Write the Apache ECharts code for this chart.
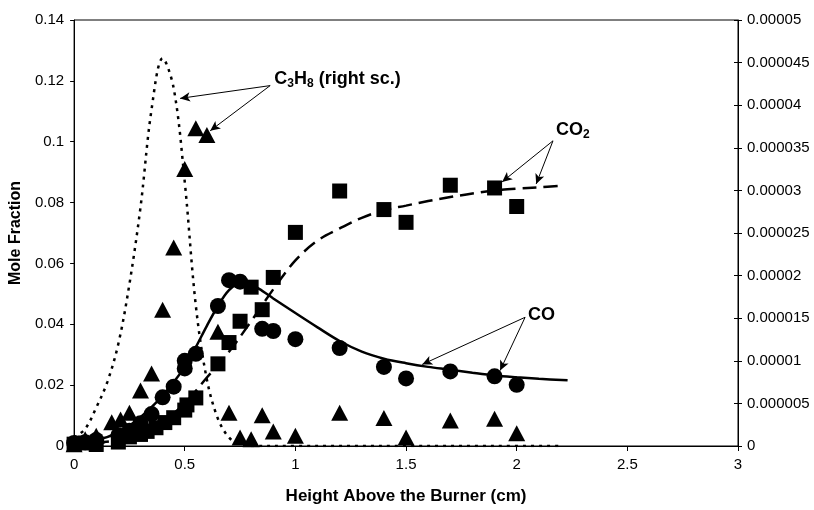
<!DOCTYPE html>
<html>
<head>
<meta charset="utf-8">
<script src="https://cdn.jsdelivr.net/npm/echarts@6/dist/echarts.min.js"></script>
<style>
  html, body { margin: 0; padding: 0; background: #fff; }
  #chart { width: 814px; height: 510px; }
</style>
</head>
<body>
<div id="chart"></div>
<script>
// measured points (height in cm)
const coX  = [0, 0.05, 0.1, 0.2, 0.25, 0.3, 0.35, 0.4, 0.45, 0.5, 0.5, 0.55, 0.65, 0.7, 0.75, 0.85, 0.9, 1.0, 1.2, 1.4, 1.5, 1.7, 1.9, 2.0];
const coY  = [0.001, 0.0012, 0.002, 0.0035, 0.005, 0.0075, 0.0105, 0.016, 0.0195, 0.0255, 0.028, 0.0303, 0.046, 0.0545, 0.054, 0.0385, 0.0378, 0.0351, 0.0322, 0.026, 0.0222, 0.0245, 0.0229, 0.0201];

const co2X = [0, 0.05, 0.1, 0.2, 0.25, 0.3, 0.33, 0.37, 0.41, 0.45, 0.5, 0.51, 0.55, 0.65, 0.7, 0.75, 0.8, 0.85, 0.9, 1.0, 1.2, 1.4, 1.5, 1.7, 1.9, 2.0];
const co2Y = [0.0006, 0.001, 0.0005, 0.0013, 0.003, 0.0038, 0.0048, 0.006, 0.0077, 0.0093, 0.0118, 0.0135, 0.0158, 0.027, 0.034, 0.041, 0.0522, 0.0448, 0.0554, 0.0702, 0.0838, 0.0777, 0.0735, 0.0857, 0.0848, 0.0787];

// C3H8, right scale
const c3h8X = [0, 0.05, 0.1, 0.17, 0.21, 0.25, 0.3, 0.35, 0.4, 0.45, 0.5, 0.55, 0.6, 0.65, 0.7, 0.75, 0.8, 0.85, 0.9, 1.0, 1.2, 1.4, 1.5, 1.7, 1.9, 2.0];
const c3h8Y = [0.0000002, 0.0000008, 0.0000012, 0.0000028, 0.0000031, 0.0000039, 0.0000065, 0.0000085, 0.000016, 0.0000233, 0.0000325, 0.0000373, 0.0000365, 0.0000134, 0.0000039, 0.000001, 0.0000008, 0.0000036, 0.0000017, 0.0000012, 0.0000039, 0.0000033, 0.000001, 0.000003, 0.0000032, 0.0000015];

// model curves
const coFitX = [0, 0.1, 0.2, 0.3, 0.4, 0.45, 0.5, 0.55, 0.6, 0.65, 0.7, 0.75, 0.8, 0.85, 0.9, 1.0, 1.1, 1.2, 1.3, 1.4, 1.5, 1.6, 1.7, 1.8, 1.9, 2.0, 2.1, 2.23];
const coFitY = [0.0015, 0.002, 0.0045, 0.0095, 0.0165, 0.021, 0.026, 0.0325, 0.0395, 0.046, 0.0512, 0.0535, 0.053, 0.051, 0.0485, 0.0437, 0.039, 0.0345, 0.031, 0.0287, 0.0272, 0.026, 0.0251, 0.0241, 0.0232, 0.0226, 0.0221, 0.0216];

const co2FitX = [0, 0.1, 0.2, 0.3, 0.4, 0.5, 0.6, 0.7, 0.8, 0.9, 1.0, 1.1, 1.2, 1.3, 1.4, 1.5, 1.6, 1.7, 1.8, 1.9, 2.0, 2.1, 2.2];
const co2FitY = [0.0005, 0.001, 0.002, 0.004, 0.008, 0.014, 0.0225, 0.031, 0.041, 0.0515, 0.061, 0.0675, 0.0715, 0.075, 0.0775, 0.079, 0.0805, 0.0818, 0.083, 0.084, 0.0846, 0.085, 0.0855];

const c3h8FitX = [0, 0.05, 0.1, 0.15, 0.2, 0.25, 0.3, 0.35, 0.4, 0.45, 0.5, 0.55, 0.6, 0.65, 0.7, 0.75, 0.8, 1.0, 1.5, 2.0, 2.2];
const c3h8FitY = [0.000001, 0.000002, 0.0000045, 0.0000075, 0.000012, 0.000019, 0.000028, 0.0000395, 0.0000455, 0.000042, 0.000031, 0.0000165, 0.0000078, 0.0000032, 0.000001, 0.0000002, 0, 0, 0, 0, 0];

const xTicks = [0, 0.5, 1, 1.5, 2, 2.5, 3];
const leftMax = 0.14, leftStep = 0.02;
const rightMax = 0.00005, rightStep = 0.000005;

const pairs = (xs, ys) => xs.map((x, i) => [x, ys[i]]);

const font = 'Arial, "Liberation Sans", sans-serif';
const markerStyle = { color: '#000', opacity: 1 };
const arrowLine = (from, to) => [{ coord: from }, { coord: to }];
const labelPoint = (coord, text) => ({
  coord: coord,
  symbol: 'circle',
  symbolSize: 0,
  label: {
    show: true,
    position: 'right',
    distance: 0,
    formatter: text,
    color: '#000',
    fontFamily: font,
    fontWeight: 'bold',
    fontSize: 18,
    rich: {
      b: { fontFamily: font, fontWeight: 'bold', fontSize: 18, color: '#000' },
      s: { fontFamily: font, fontWeight: 'bold', fontSize: 12, color: '#000', padding: [9, 0, 0, 0] }
    }
  }
});
const markLineBase = {
  silent: true,
  symbol: ['none', 'arrow'],
  symbolSize: [7, 10],
  label: { show: false },
  lineStyle: { color: '#000', width: 1, type: 'solid' },
  emphasis: { disabled: true }
};

const chart = echarts.init(document.getElementById('chart'), null, { renderer: 'canvas' });
chart.setOption({
  animation: false,
  backgroundColor: '#fff',
  grid: { left: 74, right: 76, top: 20, bottom: 56, show: true, borderColor: '#000', borderWidth: 1 },
  xAxis: {
    type: 'value',
    min: xTicks[0], max: xTicks[xTicks.length - 1], interval: 0.5,
    name: 'Height Above the Burner (cm)',
    nameLocation: 'middle',
    nameGap: 42,
    nameTextStyle: { fontFamily: font, fontWeight: 'bold', fontSize: 17, color: '#000' },
    axisLine: { lineStyle: { color: '#000', width: 1 } },
    axisTick: { show: true, inside: false, length: 5, lineStyle: { color: '#000' } },
    axisLabel: { fontFamily: font, fontSize: 15, color: '#000', margin: 11 },
    splitLine: { show: false }
  },
  yAxis: [
    {
      type: 'value',
      min: 0, max: leftMax, interval: leftStep,
      name: 'Mole Fraction',
      nameLocation: 'middle',
      nameGap: 50,
      nameTextStyle: { fontFamily: font, fontWeight: 'bold', fontSize: 16, color: '#000' },
      axisLine: { show: true, lineStyle: { color: '#000', width: 1 } },
      axisTick: { show: true, inside: false, length: 4, lineStyle: { color: '#000' } },
      axisLabel: { fontFamily: font, fontSize: 15, color: '#000', margin: 10 },
      splitLine: { show: false }
    },
    {
      type: 'value',
      position: 'right',
      min: 0, max: rightMax, interval: rightStep,
      axisLine: { show: true, lineStyle: { color: '#000', width: 1 } },
      axisTick: { show: true, inside: false, length: 4, lineStyle: { color: '#000' } },
      axisLabel: {
        fontFamily: font, fontSize: 15, color: '#000', margin: 9,
        formatter: v => String(+v.toFixed(6))
      },
      splitLine: { show: false }
    },
    {
      // inner half of the crossing ticks on the right axis
      type: 'value',
      position: 'right',
      min: 0, max: rightMax, interval: rightStep,
      axisLine: { show: false },
      axisTick: { show: true, inside: true, length: 4, lineStyle: { color: '#000' } },
      axisLabel: { show: false },
      splitLine: { show: false }
    }
  ],
  series: [
    {
      name: 'C3H8 model',
      type: 'line',
      yAxisIndex: 1,
      data: pairs(c3h8FitX, c3h8FitY),
      smooth: 0.35,
      showSymbol: false,
      lineStyle: { color: '#000', width: 2.5, type: [3, 5] },
      markLine: Object.assign({}, markLineBase, {
        data: [
          arrowLine([0.886, 0.0000423], [0.479, 0.0000408]),
          arrowLine([0.886, 0.0000423], [0.615, 0.0000370])
        ]
      }),
      markPoint: { silent: true, data: [labelPoint([0.905, 0.0000431], '{b|C}{s|3}{b|H}{s|8}{b| (right sc.)}')] },
      z: 2
    },
    {
      name: 'CO2 model',
      type: 'line',
      data: pairs(co2FitX, co2FitY),
      smooth: 0.35,
      showSymbol: false,
      lineStyle: { color: '#000', width: 2.5, type: [14, 7] },
      markLine: Object.assign({}, markLineBase, {
        data: [
          arrowLine([2.164, 0.1003], [1.934, 0.0868]),
          arrowLine([2.164, 0.1003], [2.088, 0.0861])
        ]
      }),
      markPoint: { silent: true, data: [labelPoint([2.178, 0.1039], '{b|CO}{s|2}')] },
      z: 2
    },
    {
      name: 'CO model',
      type: 'line',
      data: pairs(coFitX, coFitY),
      smooth: 0.35,
      showSymbol: false,
      lineStyle: { color: '#000', width: 2.5, type: 'solid' },
      markLine: Object.assign({}, markLineBase, {
        data: [
          arrowLine([2.038, 0.0423], [1.573, 0.0268]),
          arrowLine([2.038, 0.0423], [1.925, 0.0248])
        ]
      }),
      markPoint: { silent: true, data: [labelPoint([2.051, 0.0432], '{b|CO}')] },
      z: 2
    },
    {
      name: 'C3H8',
      type: 'scatter',
      yAxisIndex: 1,
      data: pairs(c3h8X, c3h8Y),
      symbol: 'triangle',
      symbolSize: [17, 16],
      itemStyle: markerStyle,
      z: 3
    },
    {
      name: 'CO',
      type: 'scatter',
      data: pairs(coX, coY),
      symbol: 'circle',
      symbolSize: 16,
      itemStyle: markerStyle,
      z: 3
    },
    {
      name: 'CO2',
      type: 'scatter',
      data: pairs(co2X, co2Y),
      symbol: 'rect',
      symbolSize: 15,
      itemStyle: markerStyle,
      z: 3
    }
  ]
});
</script>
</body>
</html>
